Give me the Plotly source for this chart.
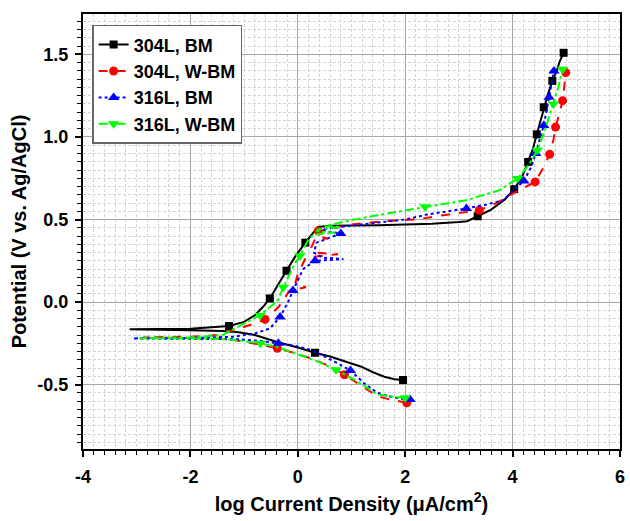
import plotly.graph_objects as go

# Potentiodynamic polarisation curves: log current density vs potential.
# Each series runs from the cathodic end, through the corrosion-potential
# spike, up the anodic/passive/transpassive branch.

bm304_x = [1.96, 1.8, 1.61, 1.4, 1.17, 0.9, 0.6, 0.32, 0.0, -0.4, -0.8, -1.1, -1.4, -2.0, -3.13,
           -2.0, -1.28, -1.0, -0.8, -0.65, -0.52, -0.36, -0.21, -0.05, 0.14, 0.28, 0.375, 0.6, 1.0,
           1.5, 2.0, 2.5, 3.0, 3.15, 3.35, 3.6, 3.85, 4.03, 4.18, 4.29, 4.38, 4.45, 4.52, 4.58,
           4.66, 4.74, 4.82, 4.88, 4.95]
bm304_y = [-0.472, -0.468, -0.452, -0.425, -0.39, -0.36, -0.33, -0.307, -0.275, -0.24, -0.2, -0.183,
           -0.175, -0.17, -0.165, -0.162, -0.145, -0.12, -0.08, -0.03, 0.022, 0.11, 0.19, 0.275, 0.36,
           0.42, 0.455, 0.462, 0.462, 0.466, 0.47, 0.475, 0.485, 0.49, 0.52, 0.56, 0.62, 0.684, 0.76,
           0.849, 0.93, 1.016, 1.1, 1.18, 1.26, 1.34, 1.40, 1.46, 1.51]
bm304_marks = [0, 7, 16, 20, 22, 24, 34, 37, 39, 41, 43, 45, 48]

wbm304_x = [2.03, 1.85, 1.65, 1.48, 1.25, 1.05, 0.87, 0.6, 0.24, -0.05, -0.38, -0.75, -1.1, -1.4,
            -2.0, -2.88, -2.0, -1.5, -1.1, -0.85, -0.61, -0.36, -0.15, 0.15, -0.05, 0.0, 0.06, 0.15,
            0.75, 0.3, 0.25, 0.32, 0.55, 0.35, 0.38, 0.7, 1.0, 1.6, 2.2, 2.71, 3.38, 3.7, 3.94, 4.2,
            4.42, 4.55, 4.69, 4.76, 4.8, 4.87, 4.93, 4.96, 4.99]
wbm304_y = [-0.61, -0.6, -0.585, -0.57, -0.52, -0.475, -0.44, -0.39, -0.34, -0.31, -0.28, -0.255,
            -0.234, -0.222, -0.218, -0.214, -0.21, -0.2, -0.16, -0.135, -0.105, -0.03, 0.07, 0.09,
            0.11, 0.17, 0.21, 0.27, 0.29, 0.3, 0.33, 0.38, 0.385, 0.4, 0.43, 0.45, 0.47, 0.49, 0.5,
            0.526, 0.556, 0.6, 0.647, 0.69, 0.728, 0.8, 0.895, 0.98, 1.06, 1.14, 1.22, 1.3, 1.39]
wbm304_marks = [0, 6, 10, 20, 34, 40, 44, 46, 48, 50, 52]

bm316_x = [2.09, 1.9, 1.7, 1.48, 1.23, 0.98, 0.74, 0.5, 0.25, -0.05, -0.36, -0.7, -1.1, -2.0, -3.07,
           -2.0, -1.2, -0.8, -0.52, -0.33, -0.18, -0.09, 0.0, 0.1, 0.32, 0.85, 0.45, 0.3, 0.35, 0.8,
           0.5, 0.45, 0.9, 1.48, 2.0, 2.4, 3.14, 3.5, 3.82, 4.21, 4.35, 4.43, 4.5, 4.58, 4.68, 4.77]
bm316_y = [-0.59, -0.585, -0.57, -0.55, -0.49, -0.415, -0.37, -0.33, -0.29, -0.265, -0.25, -0.235,
           -0.225, -0.222, -0.22, -0.218, -0.21, -0.19, -0.16, -0.09, 0.0, 0.07, 0.13, 0.2, 0.25,
           0.26, 0.27, 0.3, 0.36, 0.415, 0.43, 0.44, 0.46, 0.48, 0.5, 0.53, 0.567, 0.59, 0.617,
           0.734, 0.82, 0.9, 0.98, 1.07, 1.24, 1.40]
bm316_marks = [0, 5, 10, 19, 21, 24, 29, 36, 39, 41, 43, 44, 45]

wbm316_x = [2.0, 1.8, 1.6, 1.48, 1.25, 1.05, 0.71, 0.37, -0.055, -0.4, -0.7, -1.1, -1.5, -2.95,
            -2.0, -1.4, -1.0, -0.7, -0.37, -0.27, -0.06, 0.04, 0.19, 0.3, 0.7, 0.35, 0.375, 0.8,
            0.5, 0.9, 1.48, 2.37, 3.14, 3.75, 4.09, 4.3, 4.46, 4.58, 4.68, 4.76, 4.85, 4.93]
wbm316_y = [-0.58, -0.575, -0.565, -0.56, -0.51, -0.47, -0.41, -0.36, -0.31, -0.27, -0.25, -0.232,
            -0.222, -0.218, -0.214, -0.2, -0.13, -0.08, 0.01, 0.09, 0.23, 0.28, 0.375, 0.41, 0.42,
            0.43, 0.44, 0.455, 0.46, 0.49, 0.526, 0.577, 0.617, 0.677, 0.748, 0.83, 0.92, 1.02,
            1.12, 1.2, 1.3, 1.41]
wbm316_marks = [0, 6, 10, 17, 19, 21, 31, 34, 36, 39, 41]

x_ticks = [-4, -2, 0, 2, 4, 6]
y_ticks = [-0.5, 0.0, 0.5, 1.0, 1.5]

series = [
    ("304L, BM", bm304_x, bm304_y, bm304_marks, "#000000", "solid", "square", 8),
    ("304L, W-BM", wbm304_x, wbm304_y, wbm304_marks, "#FF0000", "dash", "circle", 9),
    ("316L, BM", bm316_x, bm316_y, bm316_marks, "#0000FF", "dot", "triangle-up", 10),
    ("316L, W-BM", wbm316_x, wbm316_y, wbm316_marks, "#00FF00", "dashdot", "triangle-down", 10),
]

FONT = "Liberation Sans, Arial, sans-serif"

fig = go.Figure()
for name, xs, ys, marks, color, dash, symbol, msize in series:
    fig.add_trace(go.Scatter(
        x=xs, y=ys, mode="lines", showlegend=False,
        line=dict(color=color, width=2, dash=dash), hoverinfo="skip"))
    fig.add_trace(go.Scatter(
        x=[xs[i] for i in marks], y=[ys[i] for i in marks], mode="markers",
        showlegend=False, marker=dict(color=color, symbol=symbol, size=msize, line=dict(width=0))))
    # legend entry: line with a marker in the middle
    fig.add_trace(go.Scatter(
        x=[None], y=[None], mode="lines+markers", name="<b>" + name + "</b>",
        line=dict(color=color, width=2, dash=dash),
        marker=dict(color=color, symbol=symbol, size=msize, line=dict(width=0))))

minor_grid = dict(ticks="outside", ticklen=4, tickwidth=1.2, tickcolor="black", showgrid=True,
                  gridcolor="#d4d4d4", griddash="3px,2px", gridwidth=1)

axis_common = dict(
    showline=True, linecolor="black", linewidth=2, mirror=True,
    ticks="outside", ticklen=6, tickwidth=1.5, tickcolor="black",
    showgrid=True, gridcolor="#a8a8a8", gridwidth=1,
    zeroline=False,
    tickfont=dict(family=FONT, size=18, color="black", weight="bold"),
)

fig.update_xaxes(
    range=[-4, 6], tickvals=x_ticks, ticktext=["<b>%d</b>" % v for v in x_ticks],
    ticklabelstandoff=4,
    minor=dict(dtick=0.2, **minor_grid),
    title=dict(text="<b>log Current Density (\u03bcA/cm<sup>2</sup>)</b>",
               font=dict(family=FONT, size=20, color="black"), standoff=11),
    **axis_common)
fig.update_yaxes(
    range=[-0.89, 1.745], tickvals=y_ticks, ticktext=["<b>%.1f</b>" % v for v in y_ticks],
    ticklabelstandoff=3,
    minor=dict(dtick=0.05, tick0=0, **minor_grid),
    title=dict(text="<b>Potential (V vs. Ag/AgCl)</b>",
               font=dict(family=FONT, size=20, color="black"), standoff=5),
    **axis_common)

fig.update_layout(
    width=630, height=521,
    margin=dict(l=83, r=5, t=14, b=72),
    paper_bgcolor="white", plot_bgcolor="white",
    legend=dict(x=0.017, y=0.975, xanchor="left", yanchor="top",
                bgcolor="white", bordercolor="#666666", borderwidth=1.5,
                font=dict(family=FONT, size=18, color="black"),
                tracegroupgap=0),
)

fig.write_html("out.html")
